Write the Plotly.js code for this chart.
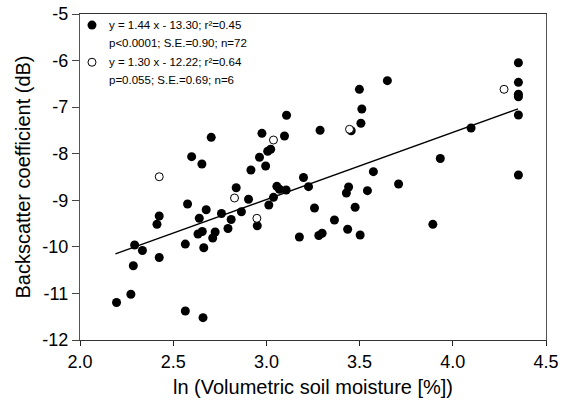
<!DOCTYPE html>
<html>
<head>
<meta charset="utf-8">
<script src="https://cdn.plot.ly/plotly-3.0.1.min.js"></script>
<style>html,body{margin:0;padding:0;background:#fff;}#chart{width:570px;height:403px;}</style>
</head>
<body>
<div id="chart"></div>
<script>
// Filled circles (n = 72)
const filledX = [2.704,2.599,2.654,2.976,3.108,3.097,3.023,3.007,2.963,2.996,
  2.917,2.838,2.904,2.577,2.677,3.056,3.070,3.106,3.038,3.013,
  2.425,2.413,2.640,2.759,2.866,2.811,2.951,2.794,2.293,2.335,
  2.425,2.286,2.565,2.633,2.656,2.725,2.712,2.664,2.273,2.196,
  2.565,2.660,3.288,3.455,3.499,3.649,3.512,3.507,3.199,3.226,
  3.258,3.441,3.429,3.476,3.365,3.436,3.177,3.281,3.299,3.503,
  3.574,3.709,3.542,3.933,4.098,3.893,4.352,4.352,4.352,4.352,
  4.352,4.352];
const filledY = [-7.648,-8.064,-8.221,-7.562,-7.173,-7.620,-7.905,-7.946,-8.075,-8.264,
  -8.350,-8.730,-8.977,-9.080,-9.204,-8.700,-8.764,-8.779,-8.936,-9.101,
  -9.338,-9.514,-9.385,-9.284,-9.247,-9.413,-9.546,-9.606,-9.960,-10.078,
  -10.229,-10.405,-9.941,-9.724,-9.670,-9.681,-9.810,-10.020,-11.017,-11.195,
  -11.377,-11.521,-7.495,-7.506,-6.617,-6.432,-7.040,-7.347,-8.511,-8.708,
  -9.166,-8.715,-8.844,-9.149,-9.423,-9.621,-9.788,-9.756,-9.707,-9.746,
  -8.386,-8.650,-8.794,-8.103,-7.448,-9.516,-6.046,-6.467,-6.724,-6.778,
  -7.169,-8.457];
// Open circles (n = 6)
const openX = [2.425,3.038,2.829,2.949,3.446,4.275];
const openY = [-8.494,-7.706,-8.951,-9.387,-7.476,-6.617];
// Regression line (filled data)
const fitX = [2.19, 4.35];
const fitY = [-10.15, -7.036];
// Legend texts
const legendLines = [
  "y = 1.44 x - 13.30; r\u00B2=0.45",
  "p<0.0001; S.E.=0.90; n=72",
  "y = 1.30 x - 12.22; r\u00B2=0.64",
  "p=0.055; S.E.=0.69; n=6"
];
const xTicks = [2.0, 2.5, 3.0, 3.5, 4.0, 4.5];
const yTicks = [-12, -11, -10, -9, -8, -7, -6, -5];

const FONT = "Liberation Sans, Arial, sans-serif";
const traces = [
  {x: fitX, y: fitY, mode: "lines", line: {color: "#000", width: 1.4}, hoverinfo: "skip"},
  {x: filledX, y: filledY, mode: "markers", marker: {symbol: "circle", size: 9, color: "#000", line: {width: 0}}},
  {x: openX, y: openY, mode: "markers", marker: {symbol: "circle", size: 8, color: "#fff", line: {width: 1, color: "#000"}}}
];

const legY = [0.966, 0.911, 0.853, 0.798];
const annotations = legendLines.map((t, i) => ({
  text: t, xref: "paper", yref: "paper", x: 0.06, y: legY[i],
  xanchor: "left", yanchor: "middle", showarrow: false, borderpad: 0,
  font: {family: FONT, size: 11.5, color: "#000"}
}));
const shapes = [
  {type: "circle", xref: "paper", yref: "paper", xsizemode: "pixel", ysizemode: "pixel",
   xanchor: 0.0257, yanchor: 0.966, x0: -4.5, x1: 4.5, y0: -4.5, y1: 4.5,
   fillcolor: "#000", line: {width: 0}},
  {type: "circle", xref: "paper", yref: "paper", xsizemode: "pixel", ysizemode: "pixel",
   xanchor: 0.0257, yanchor: 0.852, x0: -4, x1: 4, y0: -4, y1: 4,
   fillcolor: "#fff", line: {width: 1, color: "#000"}}
];

const layout = {
  width: 570, height: 403,
  margin: {l: 80, r: 24, t: 14, b: 63},
  paper_bgcolor: "#fff", plot_bgcolor: "#fff",
  showlegend: false,
  font: {family: FONT, color: "#000"},
  xaxis: {
    range: [2, 4.5], tickvals: xTicks, ticktext: xTicks.map(v => v.toFixed(1)),
    ticks: "outside", ticklen: 5, tickcolor: "#222", tickwidth: 1,
    showline: true, linecolor: "#333", linewidth: 1.2, mirror: true,
    showgrid: false, zeroline: false,
    tickfont: {family: FONT, size: 18},
    title: {text: "ln (Volumetric soil moisture [%])", font: {family: FONT, size: 20}, standoff: 9}
  },
  yaxis: {
    range: [-12, -5], tickvals: yTicks, ticktext: yTicks.map(v => String(v)),
    ticks: "outside", ticklen: 7, tickcolor: "#444", tickwidth: 1,
    showline: true, linecolor: "#555", linewidth: 1.2, mirror: true,
    showgrid: false, zeroline: false,
    tickfont: {family: FONT, size: 18},
    title: {text: "Backscatter coefficient (dB)", font: {family: FONT, size: 20}, standoff: 6}
  },
  annotations: annotations,
  shapes: shapes
};

Plotly.newPlot("chart", traces, layout, {displayModeBar: false, staticPlot: true});
</script>
</body>
</html>
